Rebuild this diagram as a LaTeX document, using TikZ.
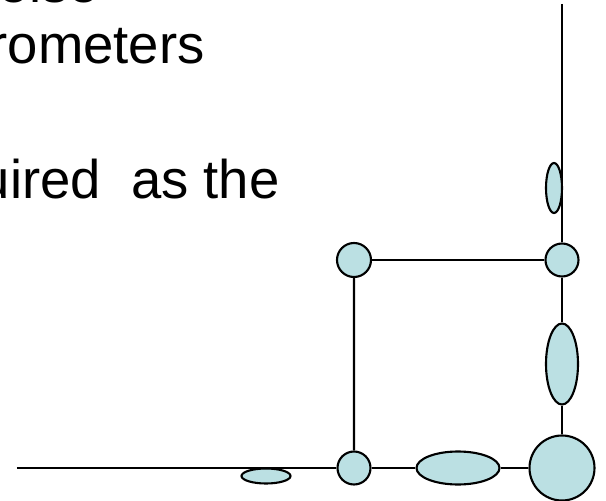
\documentclass[tikz,border=0pt]{standalone}
\usepackage{fontspec}
\setmainfont{Liberation Sans}
\usepackage{tikz}
\usetikzlibrary{shapes.geometric}
\definecolor{paleblue}{RGB}{187,224,227}
\tikzstyle{joint} = [circle, draw, fill=paleblue, line width=1.2pt, inner sep=0pt]
\tikzstyle{lens} = [ellipse, draw, fill=paleblue, line width=1.2pt, inner sep=0pt]
\tikzstyle{slidetext} = [anchor=base east, inner sep=0pt, font=\fontsize{31}{37}\selectfont]
\tikzstyle{wire} = [line width=1.2pt]

\begin{document}
\begin{tikzpicture}
        \useasboundingbox (0,0) rectangle (12.12,-10.02);
        \clip (0,0) rectangle (12.12,-10.02);
        % cropped slide text
        \node (line-1) [slidetext] at (1.98,-0.06) {else};
        \node (line-2) [slidetext] at (4.10,-1.28) {rometers};
        \node (line-3) [slidetext] at (5.60,-3.96) {uired\ \ as the};
        % bottom row
        \node (big) [joint, minimum size=1.30cm] at (11.24,-9.36) {};
        \node (flat) [lens, left of = big, xshift = -1.08cm, minimum width=1.66cm, minimum height=0.66cm] {};
        \node (bottom-left) [joint, left of = flat, xshift = -1.08cm, minimum size=0.66cm] {};
        \node (thin) [lens, left of = bottom-left, xshift = -0.76cm, yshift = -0.16cm, minimum width=0.98cm, minimum height=0.30cm] {};
        % right column
        \node (tall) [lens, above of = big, yshift = 1.08cm, minimum width=0.64cm, minimum height=1.62cm] {};
        \node (top-right) [joint, above of = tall, yshift = 1.08cm, minimum size=0.66cm] {};
        \node (top-left) [joint, left of = top-right, xshift = -3.16cm, minimum size=0.68cm] {};
        \node (narrow) [lens, above of = top-right, yshift = 0.44cm, xshift = -0.16cm, minimum width=0.32cm, minimum height=1.00cm] {};
        \coordinate (top-end) at (11.24,-0.08);
        \coordinate (left-end) at (0.34,-9.36);
        \draw [wire] (top-end) -- (top-right);
        \draw [wire] (top-left) -- (top-right);
        \draw [wire] (top-left) -- (bottom-left);
        \draw [wire] (top-right) -- (tall);
        \draw [wire] (tall) -- (big);
        \draw [wire] (left-end) -- (bottom-left);
        \draw [wire] (bottom-left) -- (flat);
        \draw [wire] (flat) -- (big);
\end{tikzpicture}
\end{document}
